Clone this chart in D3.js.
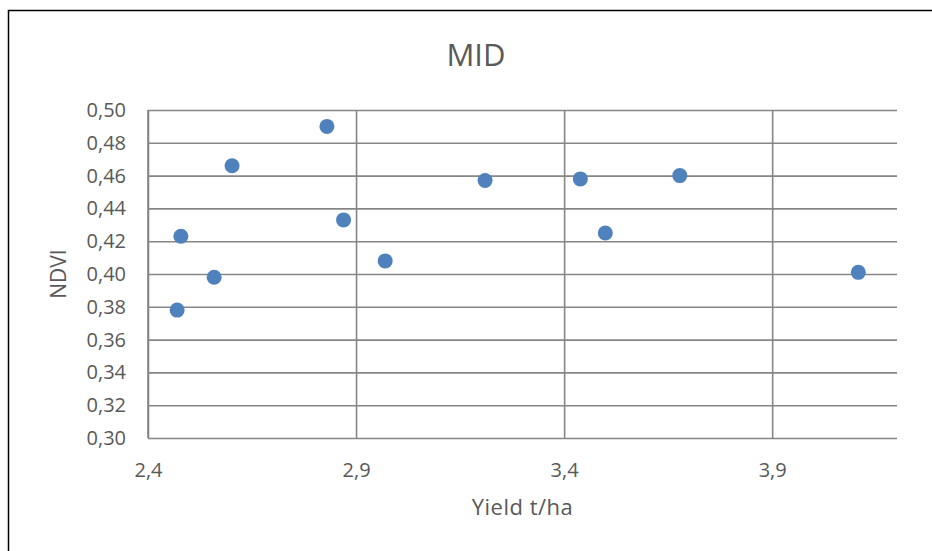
<!DOCTYPE html>
<html>
<head>
<meta charset="utf-8">
<script src="https://cdn.jsdelivr.net/npm/d3@7"></script>
<style>
    body { margin: 0; background: #fff; }
    text { font-family: "Open Sans", sans-serif; fill: #595959; }
</style>
</head>
<body>
<div id="chart"></div>
<script>
// data
var yieldVals = [2.470, 2.479, 2.559, 2.602, 2.830, 2.870, 2.970, 3.210, 3.439, 3.499, 3.678, 4.107];
var ndviVals  = [0.378, 0.423, 0.398, 0.466, 0.490, 0.433, 0.408, 0.457, 0.458, 0.425, 0.460, 0.401];
var xTicks = [2.4, 2.9, 3.4, 3.9];
var yTicks = [0.30, 0.32, 0.34, 0.36, 0.38, 0.40, 0.42, 0.44, 0.46, 0.48, 0.50];

var punkter = yieldVals.map(function (v, i) {
    return { "yield": v, "ndvi": ndviVals[i] };
});

var W = 932, H = 551;
var margin = { top: 110, right: 35, bottom: 113, left: 148 },
    width = W - margin.left - margin.right,
    height = H - margin.top - margin.bottom;

var svg = d3.select("#chart").append("svg")
    .attr("width", W)
    .attr("height", H);

// outer frame (runs past the right and bottom edge)
svg.append("rect")
    .attr("x", 8.5).attr("y", 10.5)
    .attr("width", 1000).attr("height", 1000)
    .attr("fill", "none")
    .attr("stroke", "#000")
    .attr("stroke-width", 1.5);

var g = svg.append("g")
    .attr("transform", "translate(" + margin.left + "," + margin.top + ")");

var x = d3.scaleLinear().domain([2.4, 4.2]).range([0, width]);
var y = d3.scaleLinear().domain([0.30, 0.50]).range([height, 0]);

var komma = function (f) {
    return function (d) { return d3.format(f)(d).replace(".", ","); };
};

// horizontal grid + y axis
var yAxis = g.append("g")
    .call(d3.axisLeft(y).tickValues(yTicks).tickSize(-width).tickPadding(22).tickFormat(komma(".2f")));
// vertical grid + x axis
var xAxis = g.append("g")
    .attr("transform", "translate(0," + height + ")")
    .call(d3.axisBottom(x).tickValues(xTicks).tickSize(-height).tickPadding(25).tickFormat(komma(".1f")));

[yAxis, xAxis].forEach(function (a) {
    a.select(".domain").remove();
    a.selectAll("line").attr("stroke", "#868686").attr("stroke-width", 1.6);
    a.selectAll("text").style("font-size", "20px").attr("fill", "#595959");
});
xAxis.selectAll("text").attr("dy", "0.71em");

// left edge of the plot
g.append("line")
    .attr("x1", 0).attr("x2", 0).attr("y1", 0).attr("y2", height)
    .attr("stroke", "#868686").attr("stroke-width", 1.6);

// points
g.selectAll(".punkt")
    .data(punkter)
    .enter().append("circle")
    .attr("class", "punkt")
    .attr("cx", function (d) { return x(d.yield); })
    .attr("cy", function (d) { return y(d.ndvi); })
    .attr("r", 7.5)
    .attr("fill", "#4F81BD");

// title
svg.append("text")
    .attr("x", 476).attr("y", 66)
    .attr("text-anchor", "middle")
    .style("font-size", "31px")
    .text("MID");

// axis titles
svg.append("text")
    .attr("x", margin.left + width / 2).attr("y", 515)
    .attr("text-anchor", "middle")
    .style("font-size", "22px")
    .style("letter-spacing", "0.5px")
    .text("Yield t/ha");

svg.append("text")
    .attr("transform", "translate(66," + (margin.top + height / 2) + ") rotate(-90)")
    .attr("text-anchor", "middle")
    .style("font-size", "21px")
    .text("NDVI");
</script>
</body>
</html>
